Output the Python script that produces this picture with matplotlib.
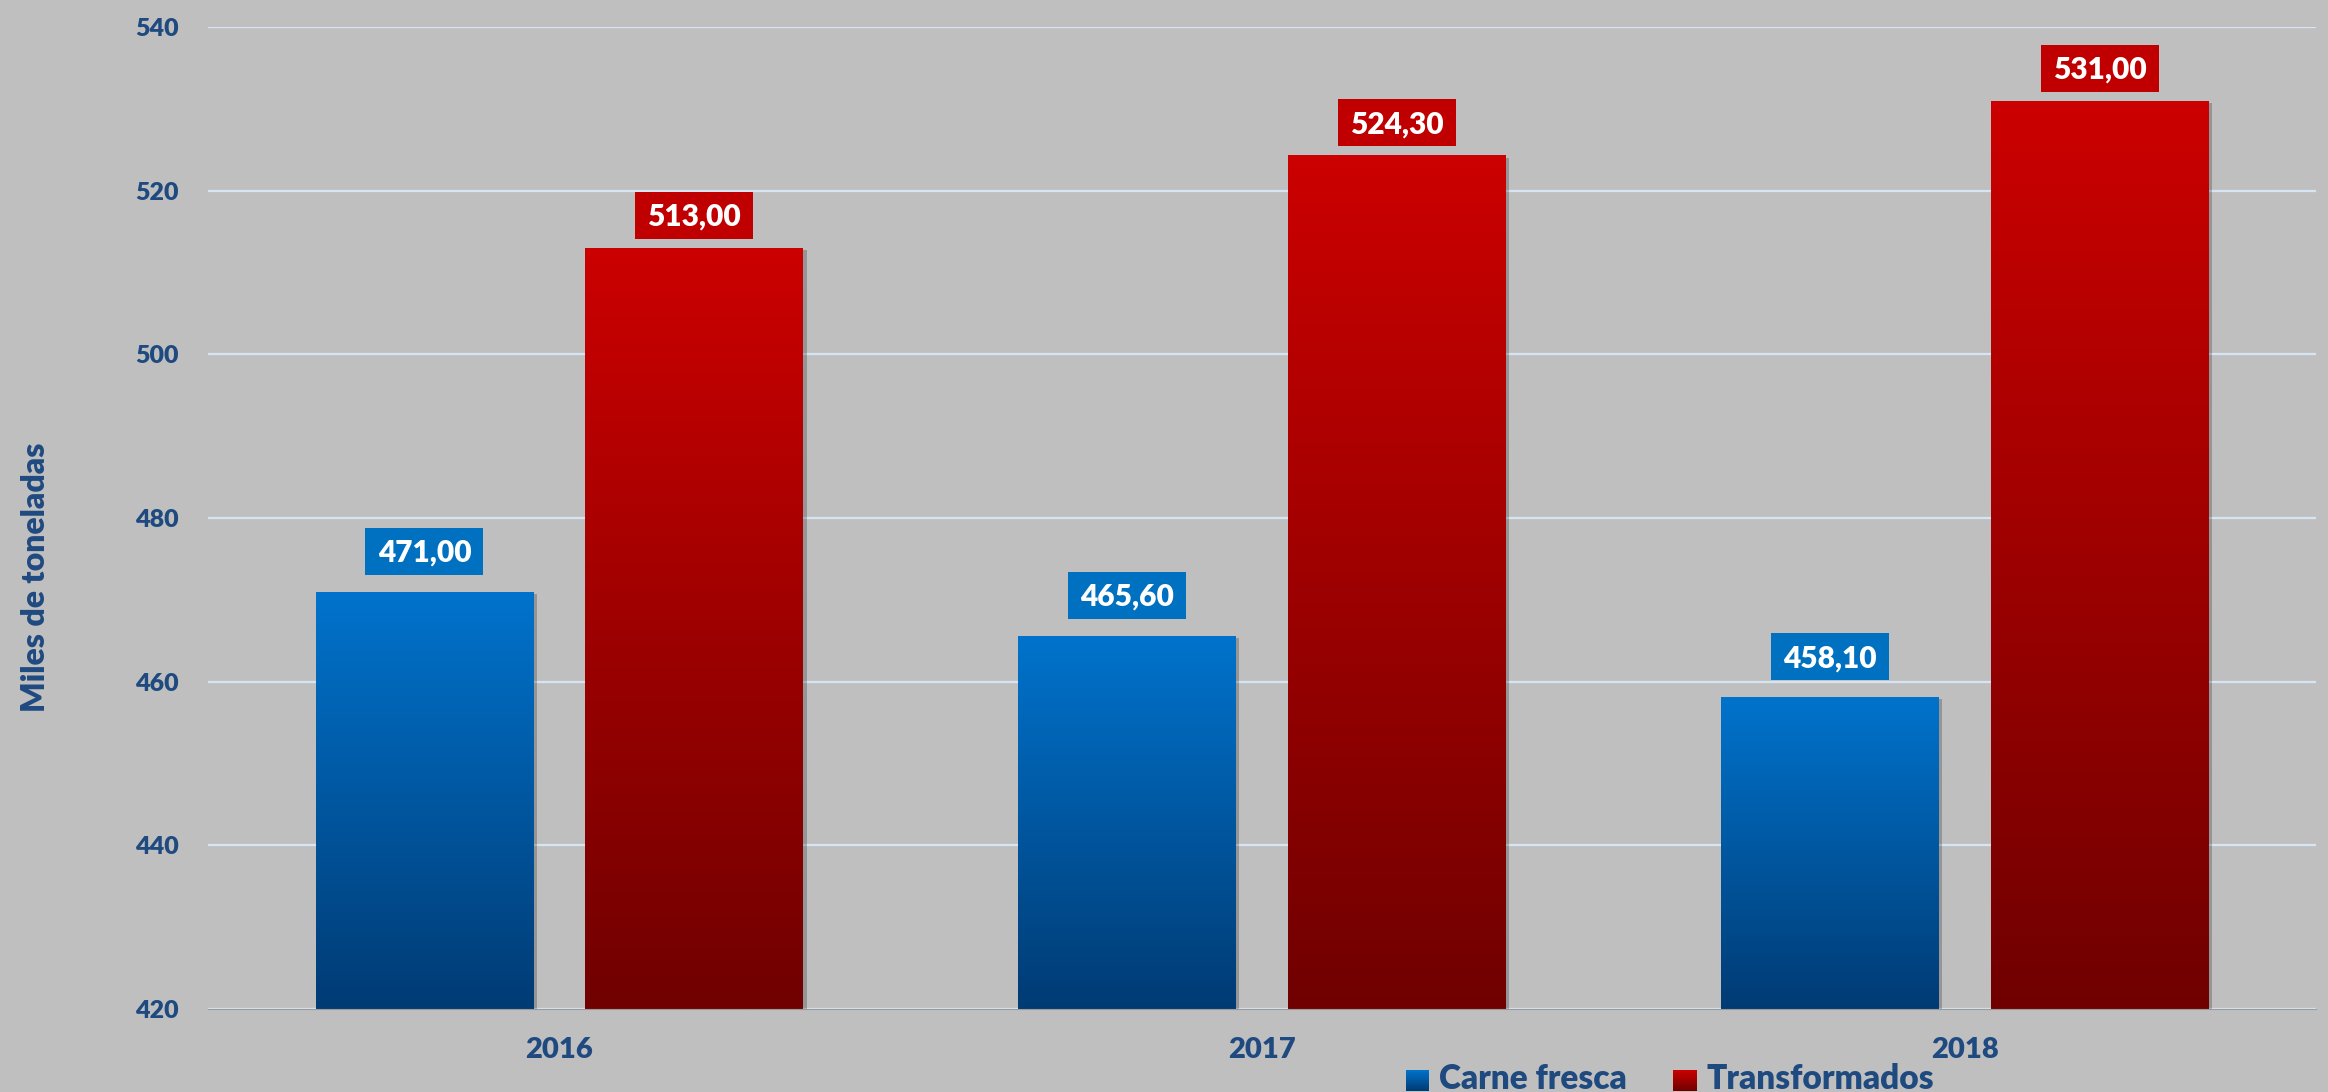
import numpy as np
import matplotlib
matplotlib.use('Agg')
import matplotlib.pyplot as plt
from matplotlib.patches import Rectangle, Patch
import matplotlib.transforms as mtransforms
import matplotlib.patheffects as pe
from matplotlib.colors import LinearSegmentedColormap

# ---- data ----
years = ['2016', '2017', '2018']
carne_fresca = [471.00, 465.60, 458.10]
transformados = [513.00, 524.30, 531.00]
series_names = ['Carne fresca', 'Transformados']
y_ticks = [420, 440, 460, 480, 500, 520, 540]

# ---- style ----
BG = '#BFBFBF'
TXT = '#1F4A80'
GRID = '#D6E4F4'
WEIGHT = 'heavy'
blue_cmap = LinearSegmentedColormap.from_list('b', ['#003B74', '#0073CC'])
red_cmap = LinearSegmentedColormap.from_list('r', ['#700000', '#CC0000'])
blue_box = '#0070C0'
red_box = '#C00000'

plt.rcParams['font.family'] = ['Lato', 'DejaVu Sans']

W, H = 2328, 1092
fig = plt.figure(figsize=(W / 100, H / 100), dpi=100, facecolor=BG)
ax = fig.add_axes([208 / W, (H - 1009) / H, (2316 - 208) / W, (1009 - 27) / H])
ax.set_facecolor(BG)

x = np.arange(len(years))
bw = 0.31
off = 0.192

shadow = [pe.SimplePatchShadow(offset=(2.5, -1.5), shadow_rgbFace='black', alpha=0.22), pe.Normal()]
bars_b = ax.bar(x - off, np.array(carne_fresca) - 420, bw, bottom=420,
                color='#0060B0', zorder=3, path_effects=shadow)
bars_r = ax.bar(x + off, np.array(transformados) - 420, bw, bottom=420,
                color='#A00000', zorder=3, path_effects=shadow)

grad = np.linspace(0, 1, 256).reshape(-1, 1)
for bars, cmap in ((bars_b, blue_cmap), (bars_r, red_cmap)):
    for b in bars:
        x0, y0 = b.get_x(), b.get_y()
        x1, y1 = x0 + b.get_width(), y0 + b.get_height()
        im = ax.imshow(grad, extent=[x0, x1, y0, y1], origin='lower', cmap=cmap,
                       aspect='auto', zorder=4, interpolation='bilinear')
        im.set_clip_path(b)

ax.set_xlim(-0.5, 2.5)
ax.set_ylim(420, 540)
ax.set_yticks(y_ticks)
ax.set_xticks(x)
ax.set_xticklabels(years)
ax.grid(axis='y', color=GRID, lw=1.6, zorder=0)
ax.set_axisbelow(True)
for s in ('top', 'right', 'left'):
    ax.spines[s].set_visible(False)
ax.spines['bottom'].set_color('#9A9A9A')
ax.spines['bottom'].set_linewidth(0.8)
ax.spines['bottom'].set_zorder(5)

ax.tick_params(axis='y', length=0, pad=21, labelsize=18, labelcolor=TXT)
ax.tick_params(axis='x', length=0, pad=20, labelsize=21, labelcolor=TXT)
for lab in ax.get_xticklabels() + ax.get_yticklabels():
    lab.set_fontweight(WEIGHT)

fig.text(36 / W, 1 - 577 / H, 'Miles de toneladas', rotation=90, ha='center', va='center',
         fontsize=23, fontweight=WEIGHT, color=TXT)

# ---- value labels with boxes ----
def add_label(xc, v, color, gap_px):
    bw_px, bh_px = 118, 47
    trans = fig.dpi_scale_trans + mtransforms.ScaledTranslation(xc, v, ax.transData)
    rect = Rectangle((-bw_px / 200, gap_px / 100), bw_px / 100, bh_px / 100,
                     transform=trans, facecolor=color, edgecolor='none', zorder=6, clip_on=False)
    ax.add_artist(rect)
    ax.annotate(f'{v:.2f}'.replace('.', ','), xy=(xc, v), xytext=(0, (gap_px + 13) * 0.72),
                textcoords='offset points', ha='center', va='baseline', color='white',
                fontsize=21.5, fontweight=WEIGHT, zorder=7)

for xi, v in zip(x - off, carne_fresca):
    add_label(xi, v, blue_box, 17)
for xi, v in zip(x + off, transformados):
    add_label(xi, v, red_box, 9)

# ---- legend with gradient squares ----
class GradientHandler:
    def __init__(self, cmap, n=12):
        self.cmap = cmap
        self.n = n

    def legend_artist(self, legend, orig_handle, fontsize, handlebox):
        x0, y0 = handlebox.xdescent, handlebox.ydescent
        w, h = handlebox.width, handlebox.height
        step = h / self.n
        for i in range(self.n):
            r = Rectangle((x0, y0 + i * step), w, step * 1.05,
                          facecolor=self.cmap((i + 0.5) / self.n), edgecolor='none',
                          transform=handlebox.get_transform())
            handlebox.add_artist(r)
        return r

h_blue = Patch(facecolor='#0062B2', edgecolor='none')
h_red = Patch(facecolor='#A80000', edgecolor='none')
leg = fig.legend([h_blue, h_red], series_names, loc='center', bbox_to_anchor=(1670 / W, 1 - 1079 / H),
                 ncol=2, frameon=False, prop={'weight': WEIGHT, 'size': 24},
                 handlelength=0.7, handleheight=0.57, handletextpad=0.3, columnspacing=1.4,
                 borderpad=0, borderaxespad=0,
                 handler_map={h_blue: GradientHandler(blue_cmap), h_red: GradientHandler(red_cmap)})
for t in leg.get_texts():
    t.set_color(TXT)

fig.savefig('out.png', dpi=100, facecolor=BG)
